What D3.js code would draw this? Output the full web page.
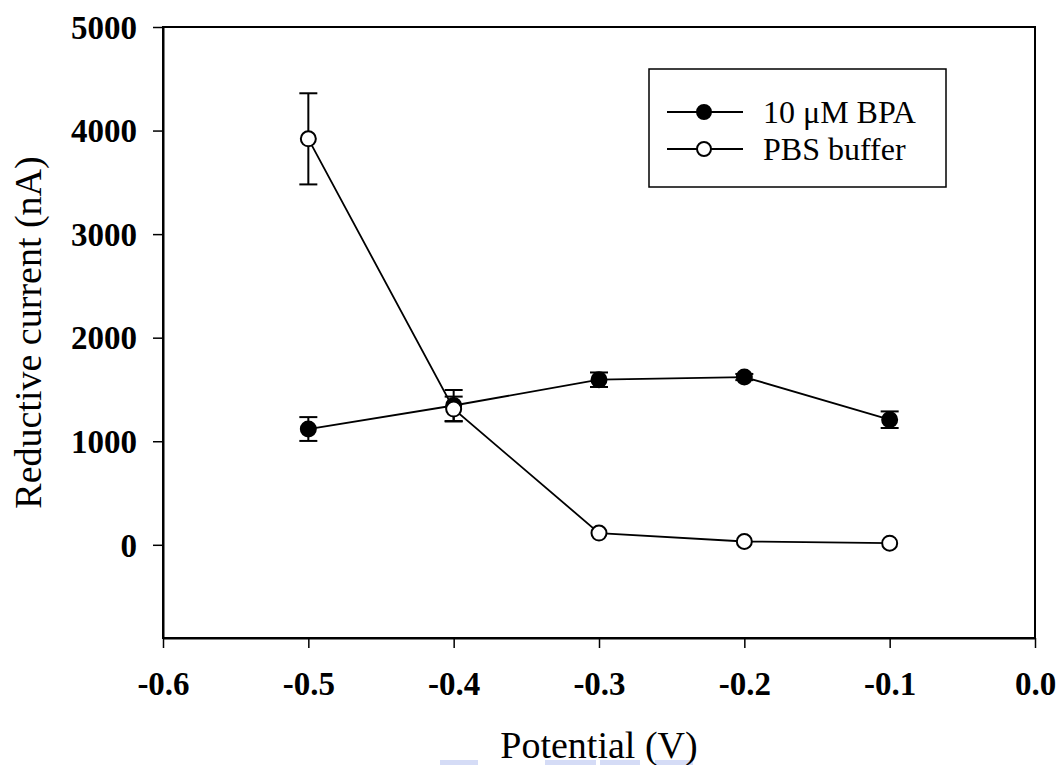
<!DOCTYPE html>
<html>
<head>
<meta charset="utf-8">
<script src="https://cdn.jsdelivr.net/npm/d3@7"></script>
<style>
  body { margin: 0; background: #fff; }
  svg { display: block; }
</style>
</head>
<body>
<div id="chart"></div>
<script>
// potentials (V)
const potentials = [-0.5, -0.4, -0.3, -0.2, -0.1];
// 10 uM BPA
const bpaMean = [1118, 1345, 1594, 1620, 1208];
const bpaErr = [115, 150, 70, 30, 80];
// PBS buffer
const pbsMean = [3920, 1311, 113, 32, 16];
const pbsErr = [440, 120, 0, 0, 0];

const xTicks = [-0.6, -0.5, -0.4, -0.3, -0.2, -0.1, 0.0];
const yTicks = [0, 1000, 2000, 3000, 4000, 5000];

const seriesList = [
  { name: "10 \u03bcM BPA", mean: bpaMean, err: bpaErr, fill: "#000" },
  { name: "PBS buffer", mean: pbsMean, err: pbsErr, fill: "#fff" }
];

const W = 1061, H = 765;
const margin = { top: 27, right: 26, bottom: 127, left: 163 };

const svg = d3.select("#chart").append("svg")
    .attr("width", W)
    .attr("height", H);

const x = d3.scaleLinear().domain([-0.6, 0]).range([margin.left, W - margin.right]);
const y = d3.scaleLinear().domain([-900, 5000]).range([H - margin.bottom, margin.top]);

const serif = "'Liberation Serif', 'Times New Roman', serif";

// frame
svg.append("rect")
    .attr("x", x(-0.6))
    .attr("y", y(5000))
    .attr("width", x(0) - x(-0.6))
    .attr("height", y(-900) - y(5000))
    .attr("fill", "none")
    .attr("stroke", "#000")
    .attr("stroke-width", 2);

// axes
const xAxis = svg.append("g")
    .attr("transform", `translate(0,${y(-900)})`)
    .call(d3.axisBottom(x).tickValues(xTicks).tickSize(10).tickSizeOuter(0)
      .tickFormat(d => d.toFixed(1)));

const yAxis = svg.append("g")
    .attr("transform", `translate(${x(-0.6)},0)`)
    .call(d3.axisLeft(y).tickValues(yTicks).tickSize(10).tickSizeOuter(0)
      .tickFormat(d => String(d)));

[xAxis, yAxis].forEach(a => {
  a.select(".domain").attr("stroke", "#000").attr("stroke-width", 2);
  a.selectAll(".tick line").attr("stroke", "#000").attr("stroke-width", 1.5);
  a.selectAll(".tick text")
    .attr("font-family", serif)
    .attr("font-weight", "bold")
    .attr("font-size", 33)
    .attr("fill", "#000");
});
xAxis.selectAll(".tick text").attr("y", 57).attr("dy", 0);
yAxis.selectAll(".tick text").attr("x", -26).attr("dy", "0.34em");

// axis titles
svg.append("text")
    .attr("x", (x(-0.6) + x(0)) / 2)
    .attr("y", 758)
    .attr("text-anchor", "middle")
    .attr("font-family", serif)
    .attr("font-size", 38)
    .text("Potential (V)");

svg.append("text")
    .attr("transform", `translate(41,${(y(5000) + y(-900)) / 2}) rotate(-90)`)
    .attr("text-anchor", "middle")
    .attr("font-family", serif)
    .attr("font-size", 38)
    .text("Reductive current (nA)");

// faint blue smudge under the x title (scan artefact)
const smudge = [[440, 478], [545, 596], [600, 640], [655, 693]];
svg.insert("g", ":first-child").selectAll("rect")
    .data(smudge)
    .enter().append("rect")
    .attr("x", d => d[0])
    .attr("y", 760)
    .attr("width", d => d[1] - d[0])
    .attr("height", 5)
    .attr("fill", "#c3cdf2")
    .attr("opacity", 0.7);

const line = d3.line()
    .x(d => x(d.p))
    .y(d => y(d.v));

seriesList.forEach(s => {
  const pts = potentials.map((p, i) => ({ p: p, v: s.mean[i], e: s.err[i] }));
  const g = svg.append("g");

  // error bars
  const eb = g.selectAll("g.err")
      .data(pts.filter(d => d.e > 0))
      .enter().append("g")
      .attr("stroke", "#000")
      .attr("stroke-width", 2);
  eb.append("line")
      .attr("x1", d => x(d.p)).attr("x2", d => x(d.p))
      .attr("y1", d => y(d.v + d.e)).attr("y2", d => y(d.v - d.e));
  eb.append("line")
      .attr("x1", d => x(d.p) - 9).attr("x2", d => x(d.p) + 9)
      .attr("y1", d => y(d.v + d.e)).attr("y2", d => y(d.v + d.e));
  eb.append("line")
      .attr("x1", d => x(d.p) - 9).attr("x2", d => x(d.p) + 9)
      .attr("y1", d => y(d.v - d.e)).attr("y2", d => y(d.v - d.e));

  g.append("path")
      .datum(pts)
      .attr("d", line)
      .attr("fill", "none")
      .attr("stroke", "#000")
      .attr("stroke-width", 1.8);

  g.selectAll("circle")
      .data(pts)
      .enter().append("circle")
      .attr("cx", d => x(d.p))
      .attr("cy", d => y(d.v))
      .attr("r", 7.5)
      .attr("fill", s.fill)
      .attr("stroke", "#000")
      .attr("stroke-width", 2);
});

// legend
const legend = svg.append("g");
legend.append("rect")
    .attr("x", 649).attr("y", 69)
    .attr("width", 297).attr("height", 118)
    .attr("fill", "#fff")
    .attr("stroke", "#000")
    .attr("stroke-width", 1.5);

const rows = legend.selectAll("g.row")
    .data(seriesList)
    .enter().append("g")
    .attr("transform", (d, i) => `translate(0,${112 + i * 37})`);

rows.append("line")
    .attr("x1", 667).attr("x2", 743)
    .attr("y1", 0).attr("y2", 0)
    .attr("stroke", "#000")
    .attr("stroke-width", 2);

rows.append("circle")
    .attr("cx", 704).attr("cy", 0).attr("r", 7)
    .attr("fill", d => d.fill)
    .attr("stroke", "#000")
    .attr("stroke-width", 2);

rows.append("text")
    .attr("x", 763)
    .attr("y", 0)
    .attr("dy", "0.33em")
    .attr("font-family", serif)
    .attr("font-size", 32)
    .text(d => d.name);
</script>
</body>
</html>
